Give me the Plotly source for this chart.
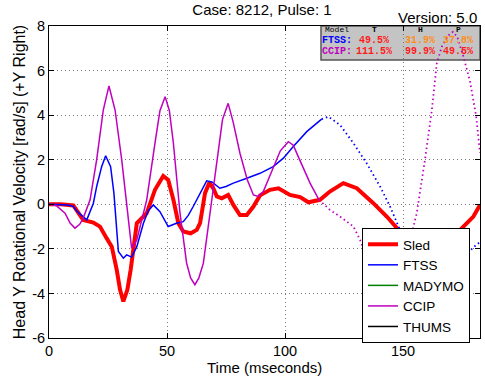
import plotly.graph_objects as go

# ---- data ----
sled_t = [0, 5, 10.3, 14.5, 18.8, 21.6, 24.4, 26.6, 28.7, 30.1, 31.5, 33.2, 34.6, 35.7, 37.2, 41.4,
          44.9, 48.4, 50.5, 52.7, 54.8, 56.9, 60, 62.6, 64, 66.1, 67.9, 69.6, 71.1, 73.2, 75.9, 78.1,
          80.9, 83.8, 86.6, 89.4, 93.6, 97.2, 102.1, 106.4, 109.9, 114.8, 119, 124.7, 130.4, 137.4,
          143.1, 148.7, 155, 162, 168, 174.2, 179.8, 182.6]
sled_v = [0, 0, -0.05, -0.7, -0.82, -1.0, -1.52, -1.9, -2.94, -3.84, -4.36, -3.84, -2.94, -1.9, -0.85, -0.4,
          0.65, 1.27, 1.09, 0.2, -0.85, -1.22, -1.3, -1.15, -0.85, 0.5, 0.97, 0.72, 0.35, 0.27, 0.42, -0.03,
          -0.48, -0.48, -0.1, 0.4, 0.65, 0.72, 0.42, 0.32, 0.09, 0.2, 0.57, 0.95, 0.72, 0.05,
          -0.55, -1.22, -1.8, -2.1, -1.8, -1.15, -0.55, -0.03]

ftss_t = [0, 8, 10.3, 12, 16, 18.8, 20.2, 22.3, 24, 26.1, 27.5, 29, 29.4, 31.5, 32.9, 35, 37.2, 40, 42,
          44.2, 47, 50.5, 54, 56.9, 59, 61.1, 64, 66.8, 69, 72.4, 75, 78.1, 83.8, 89.4, 95, 99.3, 103.5,
          109.2, 115.5]
ftss_v = [0, -0.03, -0.1, -0.33, -0.7, 0.05, 0.8, 1.69, 2.18, 1.69, 0.5, -1.6, -2.12, -2.42, -2.27, -2.37,
          -1.9, -0.85, -0.3, -0.03, -0.33, -1.0, -0.85, -0.78, -0.5, -0.1, 0.5, 1.05, 1.0, 0.72, 0.8, 0.95,
          1.17, 1.39, 1.69, 2.07, 2.59, 3.26, 3.82]
ftss_dot_t = [115.5, 118.4, 123.3, 129, 134.6, 140.3, 144.5, 148.7, 155, 162, 170, 176, 181, 182.6]
ftss_dot_v = [3.82, 3.93, 3.56, 2.74, 1.84, 0.79, -0.1, -1.15, -2.5, -3.2, -2.9, -2.3, -1.82, -1.7]

ccip_t = [0, 3, 6.8, 9, 11, 13, 14.5, 17.4, 20.2, 23, 25.4, 28, 30.8, 33.2, 35, 37.2, 39.3, 41.4, 44.9,
          47, 49.2, 51, 52.7, 55.5, 58.3, 60, 61.8, 63.5, 65.4, 68.2, 71.1, 73.5, 75.9, 78, 80.9, 84,
          86.6, 88.6, 90.8, 95, 98, 101.4, 103.5, 105.6, 110.6, 114.4]
ccip_v = [0, -0.05, -0.4, -0.85, -1.07, -0.9, -0.62, 0.2, 2.0, 4.23, 5.31, 4.23, 2.0, -0.4, -1.97, -1.6,
          -0.7, 0.2, 2.74, 4.2, 4.83, 4.2, 2.74, -0.4, -2.64, -3.3, -3.61, -3.3, -2.64, -0.4, 2.0, 3.8,
          4.53, 3.7, 2.29, 1.1, 0.42, 0.35, 0.57, 1.69, 2.4, 2.81, 2.65, 2.14, 0.95, 0.2]
ccip_dot_t = [114.4, 119, 123.3, 129, 131.8, 136, 141, 146, 150, 153, 155.8, 159.3, 162.2, 164.3, 166.4,
              169.9, 171.2, 173, 175.6, 178.4, 181, 182.6]
ccip_dot_v = [0.2, -0.25, -0.55, -1.0, -1.6, -2.8, -3.5, -3.2, -2.4, -1.6, -0.4, 2.0, 4.23, 6.33, 7.07,
              7.67, 7.74, 7.5, 6.62, 5.5, 3.93, 2.3]

x_ticks = [0, 50, 100, 150]
y_ticks = [-6, -4, -2, 0, 2, 4, 6, 8]

table_rows = [
    # (label, label colour, [T, H, P], [colours])
    ("FTSS:", "#0000ff", ["49.5%", "31.9%", "37.8%"], ["#ff1a1a", "#ff8c1a", "#ff8c1a"]),
    ("CCIP:", "#bf00bf", ["111.5%", "99.9%", "49.5%"], ["#ff1a1a", "#ff1a1a", "#ff1a1a"]),
]
table_header = ["Model", "T", "H", "P"]

RED, BLUE, GREEN, MAG, BLACK = "#ff0000", "#0000ff", "#008000", "#bf00bf", "#000000"
FONT = "Liberation Sans, Arial, Helvetica, sans-serif"
MONO = "Liberation Mono, Courier New, monospace"
DOTS = "1.5px,3px"

fig = go.Figure()
fig.add_trace(go.Scatter(x=sled_t, y=sled_v, mode="lines", name="Sled",
                         line=dict(color=RED, width=4), legendrank=1))
fig.add_trace(go.Scatter(x=ftss_t, y=ftss_v, mode="lines", name="FTSS",
                         line=dict(color=BLUE, width=1.5), legendrank=2))
fig.add_trace(go.Scatter(x=ftss_dot_t, y=ftss_dot_v, mode="lines", showlegend=False,
                         line=dict(color=BLUE, width=1.8, dash=DOTS)))
fig.add_trace(go.Scatter(x=[None], y=[None], mode="lines", name="MADYMO",
                         line=dict(color=GREEN, width=1.5), legendrank=3))
fig.add_trace(go.Scatter(x=ccip_t, y=ccip_v, mode="lines", name="CCIP",
                         line=dict(color=MAG, width=1.5), legendrank=4))
fig.add_trace(go.Scatter(x=ccip_dot_t, y=ccip_dot_v, mode="lines", showlegend=False,
                         line=dict(color=MAG, width=1.8, dash=DOTS)))
fig.add_trace(go.Scatter(x=[None], y=[None], mode="lines", name="THUMS",
                         line=dict(color=BLACK, width=1.5), legendrank=5))

# layout geometry (pixels)
W, H = 485, 385
L, R, T, B = 49, 5, 26, 47
pw, ph = W - L - R, H - T - B


def px(x):
    return (x - L) / pw


def py(y):
    return (H - B - y) / ph


annotations = []
# table annotations
col_x = [337, 374, 420, 458]
annotations.append(dict(text=table_header[0], x=px(col_x[0]), y=py(30), xref="paper", yref="paper",
                        showarrow=False, font=dict(family=MONO, size=8, color="#000"),
                        xanchor="center", yanchor="middle"))
for i, h in enumerate(table_header[1:]):
    annotations.append(dict(text="<b>%s</b>" % h, x=px(col_x[i + 1]), y=py(30), xref="paper",
                            yref="paper", showarrow=False,
                            font=dict(family=MONO, size=8, color="#000"),
                            xanchor="center", yanchor="middle"))
row_y = [40.5, 51]
for r, (lab, lc, vals, cols) in enumerate(table_rows):
    annotations.append(dict(text="<b>%s</b>" % lab, x=px(col_x[0]), y=py(row_y[r]), xref="paper",
                            yref="paper", showarrow=False,
                            font=dict(family=MONO, size=10, color=lc),
                            xanchor="center", yanchor="middle"))
    for c, (v, vc) in enumerate(zip(vals, cols)):
        annotations.append(dict(text="<b>%s</b>" % v, x=px(col_x[c + 1]), y=py(row_y[r]),
                                xref="paper", yref="paper", showarrow=False,
                                font=dict(family=MONO, size=10, color=vc),
                                xanchor="center", yanchor="middle"))
annotations.append(dict(text="Version: 5.0", x=px(479), y=py(17), xref="paper", yref="paper",
                        showarrow=False, font=dict(family=FONT, size=15, color="#000"),
                        xanchor="right", yanchor="middle"))
# x axis title
annotations.append(dict(text="Time (mseconds)", x=0.5, y=py(367), xref="paper", yref="paper",
                        showarrow=False, font=dict(family=FONT, size=15, color="#000"),
                        xanchor="center", yanchor="middle"))

shapes = [dict(type="rect", xref="paper", yref="paper", x0=px(321), x1=1.0, y0=py(60), y1=1.0,
               fillcolor="#c4c4c4", line=dict(color="#555555", width=1.5), layer="between")]

axis_common = dict(showline=True, linecolor="black", linewidth=1, mirror="allticks",
                   ticks="inside", ticklen=5, tickcolor="black", showgrid=True,
                   gridcolor="#777777", griddash="1px,3px", gridwidth=1, zeroline=False,
                   automargin=False,
                   tickfont=dict(family=FONT, size=14.5, color="black"))

fig.update_layout(
    width=W, height=H,
    margin=dict(l=L, r=R, t=T, b=B, pad=0),
    paper_bgcolor="white", plot_bgcolor="white",
    font=dict(family=FONT, size=15, color="black"),
    title=dict(text="Case: 8212, Pulse: 1", x=262 / W, xanchor="center",
               y=1 - 10 / H, yanchor="middle", yref="container",
               font=dict(family=FONT, size=15, color="black")),
    xaxis=dict(range=[0, 182.6], tickvals=x_ticks, ticktext=[str(v) for v in x_ticks],
               **axis_common),
    yaxis=dict(range=[-6, 8], tickvals=y_ticks, ticktext=[str(v) for v in y_ticks],
               title=dict(text="Head Y Rotational Velocity [rad/s] (+Y Right)", standoff=2,
                          font=dict(family=FONT, size=16)), **axis_common),
    legend=dict(x=px(362), y=py(228), xanchor="left", yanchor="top", bgcolor="white",
                bordercolor="black", borderwidth=1, font=dict(family=FONT, size=13.5),
                tracegroupgap=0, itemwidth=30),
    showlegend=True,
    annotations=annotations,
    shapes=shapes,
)

fig.write_html("out.html", config={"displayModeBar": False},
               post_script="document.body.style.margin='0px';")
